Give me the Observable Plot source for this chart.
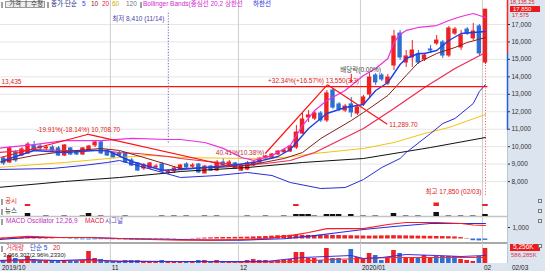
<!DOCTYPE html>
<html><head><meta charset="utf-8">
<script src="https://cdn.jsdelivr.net/npm/d3@7"></script>
<script src="https://cdn.jsdelivr.net/npm/@observablehq/plot@0.6"></script>
<style>
html,body{margin:0;padding:0;background:#fff;}
#wrap{position:relative;width:545px;height:271px;overflow:hidden;background:#fff;font-family:"Liberation Sans","Noto Sans CJK KR",sans-serif;font-size:6.5px;}
.abs{position:absolute;}
.lbl{position:absolute;white-space:nowrap;line-height:1;}
.mk{position:absolute;width:2px;height:6px;background:#a0a0a0;}
</style></head><body><div id="wrap"></div>
<script>
// ---------- data ----------
const opens = [9150,9320,9090,9670,9490,9610,10070,10010,9900,9950,
 9900,9490,9900,9670,9550,9780,10070,10240,9720,9610,
 9610,9610,9210,9040,8750,8750,8810,8980,8520,8580,
 8690,8980,8860,8980,8460,8860,8630,9090,8860,9040,
 8630,8690,8920,9090,9320,9320,9550,9670,9720,9950,
 10750,11670,11610,11900,11500,13220,12420,12070,12420,11900,
 12420,12990,14080,14080,13620,14650,16480,14820,15110,15280,
 14990,15570,15910,15970,15220,16480,15680,16710,16200,16890,
 14820];
const highs = [9380,9440,10010,9780,9950,10240,10300,10120,10070,10070,
 10010,10120,9950,9780,9950,10070,10350,10300,9840,9670,
 9720,9670,9320,9090,9040,9090,8980,9090,8690,8860,
 8980,9090,9040,9040,8920,8920,9210,9320,9210,9090,
 8980,9150,9210,9380,9490,9610,9780,9900,10070,11210,
 11900,12070,12070,12010,13220,13330,12530,12420,12820,12360,
 12930,14250,14190,14190,14140,16660,16660,15510,16080,15510,
 15340,15800,16370,16080,16890,16830,16660,16830,17060,17000,
 17850];
const lows = [9090,8920,9040,9090,9440,9550,9720,9780,9780,9670,
 9440,9440,9490,9490,9490,9720,9950,9550,9440,9320,
 9380,9040,8860,8580,8630,8690,8690,8520,8410,8460,
 8630,8750,8750,8460,8450,8580,8580,8810,8810,8690,
 8580,8630,8860,9040,9210,9270,9490,9610,9670,9840,
 10700,11380,11500,11380,11380,12130,12010,11960,11670,11790,
 12300,12760,13500,13730,13500,14360,14940,14540,14540,14710,
 14880,15340,15800,15050,15110,16370,15510,16370,16080,15220,
 14710];
const closes = [9320,9040,9900,9210,9840,10120,9780,9900,9950,9780,
 9490,10070,9550,9550,9900,10010,10240,9610,9490,9380,
 9490,9090,8920,8630,8920,9040,8860,8580,8580,8750,
 8920,8810,8920,8520,8860,8630,9090,8980,9090,8750,
 8920,9040,9090,9320,9440,9550,9720,9780,10010,10810,
 11560,11790,11900,11500,13050,12240,12130,12300,11960,12240,
 12820,13960,13680,13850,13960,16310,15110,15170,15510,14820,
 15220,15510,16080,15220,16770,16710,16370,16480,16600,15340,
 17850];

// moving averages / bands (index, value)
const ma5Idx = [1,6,11,16,18,22,27,30,34,38,42,46,48,51,54,57,60,62,64,66,67,69,70,72,74,76,78,80];
const ma5Val = [9207,9780,9665,9780,9780,9150,8650,8691,8806,8921,9093,9436,9837,11041,11900,12244,12416,13218,13676,14708,15052,15338,15338,15510,16083,16484,16541,16599];
const ma10Idx = [0,6,11,17,20,24,30,36,41,47,50,53,58,60,64,67,69,72,75,77,80];
const ma10Val = [9093,9494,9723,9895,9780,9379,8749,8806,8921,9322,9665,10467,11499,11957,12932,14077,14822,15338,15682,15968,16255];
const ma20Idx = [0,6,11,17,20,23,28,30,36,40,44,48,52,56,60,65,70,75,80];
const ma20Val = [9665,9837,9780,9780,9665,9608,9436,9322,9093,8921,9035,9207,9665,10353,11041,12187,13390,14479,15395];
const ma60Idx = [0,11,20,25,30,41,47,52,60,65,70,74,80];
const ma60Val = [8806,9093,9379,9494,9379,9322,9379,9608,9895,10238,10754,11098,11843];
const ma120Idx = [0,11,20,27,30,41,50,60,66,71,80];
const ma120Val = [7660,8004,8233,8462,8577,8806,9093,9322,9665,9952,10525];
const bbUpIdx = [0,1,6,11,17,22,28,30,34,37,40,42,45,48,50,52,54,57,60,62,64,65,66,67,69,72,74,76,78,80];
const bbUpVal = [9900,9950,10120,10350,10350,10470,10410,10410,10240,9900,9380,9210,9490,10070,11210,12070,12650,13220,14080,14480,15050,15970,16430,16660,16830,16940,17230,17460,17630,17400];
const bbLoIdx = [0,9,14,18,20,30,36,41,45,48,53,57,60,63,66,67,71,73,75,78,79,80];
const bbLoVal = [8691,8749,8921,9093,9207,8233,8347,8519,8347,7946,7602,7660,8118,8806,9322,9665,10754,11327,11614,12473,13161,13562];

// trend lines
const trendX1 = [0.49, 14.9, 43.9, 54.1];
const trendY1 = [9380, 10708.7, 9608, 13550];
const trendX2 = [14.9, 39.8, 54.1, 63.9];
const trendY2 = [10708.7, 8749, 13550, 11289.7];
const hLines = [13435];

// axis ticks
const yTicks = [8000,9000,10000,11000,12000,13000,14000,15000,16000,17000];
const monthIdx = [19, 40, 60, 80];
const monthLabels = ["11", "12", "2020/01", "02"];

// lower panels
const gongsiIdx = [5, 49, 72, 80];
const gongsiH = [2, 2, 3.5, 2];
const newsIdx = [5,8,11,14,15,17,21,27,29,31,34,36,41,44,47,49,50,51,52,54,55,56,58,60,62,65,67,69,72,74,76,78,80];
const newsCnt = [3,1,1,1,3,1,1,1,1,1,1,1,1,1,1,2,2,2,1,2,2,2,2,1,1,3,1,1,4,1,1,1,2];
const osc = [60,80,90,100,110,100,80,60,40,30,
 10,-20,-40,-60,-70,-80,-70,-60,-60,-70,
 -80,-80,-90,-90,-80,-70,-60,-50,-40,-30,
 -10,10,30,60,80,100,120,130,130,140,
 150,160,180,200,220,250,280,300,320,330,
 320,310,300,310,320,310,300,290,280,270,
 260,250,260,270,280,290,280,270,260,250,
 240,230,220,210,200,180,120,40,-150,-170,
 -120];
const macdIdx = [0,5,10,15,20,25,30,35,40,44,48,51,54,57,60,64,67,72,76,78,80];
const macdVal = [45,220,130,130,45,-45,-90,-90,-45,45,300,565,910,910,910,1260,1435,1435,1350,1220,1175];
const sigIdx = [0,5,10,15,20,25,30,35,40,47,52,56,60,65,71,76,80];
const sigVal = [-45,130,130,130,45,0,-45,-90,-90,20,300,565,825,1090,1350,1350,1350];
const vol = [1050,1050,2800,1750,1050,2450,1400,1050,700,700,
 1050,1050,700,700,1050,4200,1750,1400,700,700,
 700,1050,1050,1050,700,700,520,1050,700,700,
 700,700,520,1050,1050,700,1050,700,700,700,
 700,1050,1400,1050,1050,700,1050,1050,1400,3850,
 3850,1750,1750,1050,5250,1750,1750,1050,4900,2100,
 1400,3500,2800,1050,2100,4550,3500,2100,2100,1750,
 2800,1750,2450,2450,2450,2450,1400,1050,700,2450,
 5256];
const volUp = [1,0,1,0,1,1,0,0,1,0, 0,1,0,0,1,1,1,0,0,0, 0,0,0,0,1,1,1,0,1,1, 1,0,1,0,1,0,1,0,1,0,
 1,1,1,1,1,1,1,1,1,1, 1,1,1,0,1,0,0,1,0,1, 1,1,0,0,1,1,0,1,1,0, 1,1,0,0,0,0,1,1,1,0, 1];
const vma5Idx = [0,5,10,15,20,30,40,44,50,54,58,60,63,67,72,76,80];
const vma5Val = [1050,1400,1050,1400,700,700,700,700,2100,2450,2800,1750,2100,3150,2800,2450,2800];
const vma20Idx = [0,10,20,30,40,47,55,60,65,70,80];
const vma20Val = [875,1050,875,700,525,600,1400,1750,2100,2100,2100];

// ---------- build ----------
const RED = "#ee2222", BLUE = "#2d6fd2";
const FONT = '"Liberation Sans","Noto Sans CJK KR",sans-serif';
const W = 545, RM = 38;
const XDOM = [0.49, 83.61];
const fmt = d3.format(",");
const candles = opens.map((o, i) => ({i, o, h: highs[i], l: lows[i], c: closes[i], up: closes[i] >= o}));
const upC = candles.filter(d => d.up), dnC = candles.filter(d => !d.up);
const ser = (idx, vals) => idx.map((i, k) => ({i, v: vals[k]}));
const trends = trendX1.map((x, k) => ({x1: x, y1: trendY1[k], x2: trendX2[k], y2: trendY2[k]}));
const lowPt = {i: 28, v: 8410, date: "11/14"};
const highPt = {i: 80, v: 17850, date: "02/03"};
const exDiv = [{i: 58, label: "배당락(0.00%)", top: 14150, tip: 13700, text: 14400}];

const wrap = document.getElementById("wrap");
function div(left, top, w, h, css) {
  const d = document.createElement("div");
  d.className = "abs";
  Object.assign(d.style, {left: left + "px", top: top + "px", width: w + "px", height: h + "px"}, css || {});
  wrap.appendChild(d); return d;
}
function label(text, left, top, color, css) {
  const d = document.createElement("div");
  d.className = "lbl"; d.textContent = text;
  Object.assign(d.style, {left: left + "px", top: top + "px", color: color || "#222"}, css || {});
  wrap.appendChild(d); return d;
}
function mk(left, top) { const d = document.createElement("div"); d.className = "mk"; d.style.left = left + "px"; d.style.top = top + "px"; wrap.appendChild(d); }
function place(svg, top) { const d = document.createElement("div"); d.className = "abs"; d.style.left = "0px"; d.style.top = top + "px"; d.appendChild(svg); wrap.appendChild(d); }

// backgrounds
div(507, 0, 38, 271, {background: "#dbe4ef", borderLeft: "1px solid #b9c6d6"});
div(0, 263, 545, 8, {background: "#dbe4ef"});

const base = (h) => ({width: W, height: h, marginLeft: 0, marginRight: RM, marginTop: 0, marginBottom: 0,
  style: {background: "transparent", overflow: "hidden", fontFamily: FONT, fontSize: "6.5px"},
  x: {domain: XDOM, axis: null}});
const monthRule = Plot.ruleX(monthIdx, {x: d => d - 0.5, stroke: "#cdcdcd"});
const body = (data, fill) => Plot.rect(data, {x1: d => d.i - 0.36, x2: d => d.i + 0.36, y1: d => Math.min(d.o, d.c), y2: d => Math.max(d.o, d.c), fill, insetTop: -0.5, insetBottom: -0.5});
const wick = (data, stroke) => Plot.ruleX(data, {x: "i", y1: "l", y2: "h", stroke, strokeWidth: 1});
const line = (idx, vals, stroke, w) => Plot.line(ser(idx, vals), {x: "i", y: "v", stroke, strokeWidth: w});
const txt = (data, o) => Plot.text(data, Object.assign({fontSize: 6.5, fontFamily: FONT}, o));

// main price panel
const main = Plot.plot({...base(197),
  y: {domain: [7087, 18375], axis: null},
  marks: [
    Plot.ruleY(yTicks, {stroke: "#e6e6e6"}),
    monthRule,
    wick(upC, RED), wick(dnC, BLUE), body(upC, RED), body(dnC, BLUE),
    line(ma120Idx, ma120Val, "#111", 1),
    line(ma60Idx, ma60Val, "#f2c40f", 1),
    line(bbLoIdx, bbLoVal, "#2a2ad8", 1),
    line(ma20Idx, ma20Val, "#ec2a55", 1.2),
    line(ma10Idx, ma10Val, "#8b1c1c", 1),
    line(bbUpIdx, bbUpVal, "#ee2ee0", 1.2),
    line(ma5Idx, ma5Val, "#1f3fe6", 1.4),
    Plot.link(trends, {x1: "x1", y1: "y1", x2: "x2", y2: "y2", stroke: "#ff1010", strokeWidth: 1.2}),
    Plot.ruleY(hLines, {x1: XDOM[0], x2: 80.4, stroke: "#ff1010", strokeWidth: 1.2}),
    txt(hLines, {x: XDOM[0], y: d => d, text: d => fmt(d), textAnchor: "start", dx: 1, dy: -5, fill: "#e02020"}),
    Plot.ruleX([lowPt], {x: "i", y1: 17650, y2: 10200, stroke: "#6a5acd", strokeDasharray: "1.2,1.6"}),
    Plot.ruleX([highPt], {x: "i", y1: 14650, y2: 7200, stroke: "#f07070", strokeDasharray: "1.2,1.6"}),
    txt([lowPt], {x: "i", frameAnchor: "top", dy: 16, dx: -4, textAnchor: "end", text: d => `최저 ${fmt(d.v)} (${d.date})`, fill: "#4a3fa8"}),
    txt([highPt], {x: "i", frameAnchor: "bottom", dy: -4, dx: -4, textAnchor: "end", text: d => `최고 ${fmt(d.v)} (${d.date})`, fill: "#e02020"}),
    txt([trends[0]], {x: "x2", y: "y2", text: () => "-19.91%(-18.14%) 10,708.70", textAnchor: "middle", dx: -10, dy: -4, fill: "#e02020"}),
    txt([trends[2]], {x: "x1", y: "y1", text: () => "40.41%(10.38%)", textAnchor: "end", dx: -1, dy: -1, fill: "#c03030"}),
    txt([trends[2]], {x: "x2", y: "y2", text: () => "+32.34%(+16.57%) 13,550(3.3)", textAnchor: "middle", dx: -14, dy: -4, fill: "#e02020"}),
    txt([trends[3]], {x: "x2", y: "y2", text: () => "11,289.70", textAnchor: "start", dx: 2, dy: 1, fill: "#e02020"}),
    Plot.arrow(exDiv, {x1: "i", x2: "i", y1: "top", y2: "tip", stroke: "#ff1010", strokeWidth: 1, headLength: 3}),
    txt(exDiv, {x: "i", y: "text", text: "label", textAnchor: "start", dx: -11, fill: "#444"}),
    Plot.ruleX([XDOM[1]], {y1: 18375, y2: 15340, stroke: "#ff2020", strokeWidth: 1.5}),
    Plot.ruleX([XDOM[1]], {y1: 15340, y2: 10930, stroke: "#1f5fe0", strokeWidth: 1.5}),
    Plot.axisY(yTicks, {anchor: "right", tickSize: 2, tickPadding: 2, tickFormat: fmt, label: null, fontSize: 6.5, color: "#333"})
  ]});
place(main, 0);

// 공시 panel
const gongsi = Plot.plot({...base(12), y: {domain: [0, 12], axis: null},
  marks: [monthRule, Plot.rect(gongsiIdx.map((i, k) => ({i, h: gongsiH[k]})), {x1: d => d.i - 0.45, x2: d => d.i + 0.45, y1: 3, y2: d => 3 + d.h, fill: RED})]});
place(gongsi, 197);

// 뉴스 panel
const news = newsIdx.map((i, k) => ({i, n: newsCnt[k]}));
const newsP = Plot.plot({...base(9), y: {domain: [0, 9], axis: null},
  marks: [monthRule, Plot.ruleY([2], {stroke: "#c4c4c4", strokeWidth: 1.5}),
    Plot.rect(news.filter(d => d.n > 1), {x1: d => d.i - 0.45, x2: d => d.i + 0.45, y1: 2, y2: d => 2 + d.n, fill: "#111"}),
    Plot.rect(news.filter(d => d.n === 1), {x1: d => d.i - 0.45, x2: d => d.i + 0.45, y1: 2, y2: 3, fill: "#888"})]});
place(newsP, 209);

// MACD panel
const oscD = osc.map((v, i) => ({i, v}));
const macdP = Plot.plot({...base(25), y: {domain: [-392, 1784], axis: null},
  marks: [monthRule,
    Plot.rect(oscD.filter(d => d.v >= 0), {x1: d => d.i - 0.38, x2: d => d.i + 0.38, y1: 0, y2: "v", fill: RED}),
    Plot.rect(oscD.filter(d => d.v < 0), {x1: d => d.i - 0.38, x2: d => d.i + 0.38, y1: 0, y2: "v", fill: BLUE}),
    line(sigIdx, sigVal, "#1f2ff0", 1.2),
    line(macdIdx, macdVal, "#ff1a1a", 1.2),
    Plot.axisY([1000], {anchor: "right", tickSize: 2, tickPadding: 3, tickFormat: fmt, label: null, fontSize: 6.5, color: "#333"})]});
place(macdP, 218);
div(0, 242, 507, 1.5, {background: "#a9a9a9"});

// volume panel
const volD = vol.map((v, i) => ({i, v, up: volUp[i] === 1}));
const volP = Plot.plot({...base(20), y: {domain: [0, 7000], axis: null},
  marks: [monthRule,
    Plot.rect(volD.filter(d => d.up), {x1: d => d.i - 0.38, x2: d => d.i + 0.38, y1: 0, y2: "v", fill: RED}),
    Plot.rect(volD.filter(d => !d.up), {x1: d => d.i - 0.38, x2: d => d.i + 0.38, y1: 0, y2: "v", fill: BLUE}),
    line(vma20Idx, vma20Val, "#ff2a2a", 1),
    line(vma5Idx, vma5Val, "#3a2ae0", 1)]});
place(volP, 243);

// ---------- text overlays ----------
const xs = main.scale("x"), ys = main.scale("y");
// top legend
mk(1, 2);
div(5, 0.5, 40, 7.5, {border: "1px solid #9a9a9a", background: "#ececec", boxSizing: "border-box"});
label("가격 ┃ 수정", 9, 1.3, "#333");
mk(47, 2);
label("종가·단순", 51, 1.3, "#1a237e");
label("5", 82, 1.3, "#1f3fe6");
label("10", 91, 1.3, "#8b1c1c");
label("20", 102, 1.3, "#e8264f");
label("60", 112, 1.3, "#d9a800");
label("120", 126, 1.3, "#777");
mk(140, 2);
label("Bollinger Bands(중심선 20,2 상한선", 143, 1.3, "#d21fd2");
label("하한선", 253, 1.3, "#2a2ad8");

// right price tags
label("18,135.25", 510, -0.3, "#e02020", {fontSize: "5.5px"});
div(510, ys.apply(17850) - 3, 30, 6.2, {background: "#e81c1c"});
label(fmt(closes[closes.length - 1]), 513, ys.apply(17850) - 2.8, "#fff", {fontSize: "6px"});
label("17,575", 512, 12.8, "#e02020", {fontSize: "5.5px"});

// lower labels
mk(1, 198.5); label("공시", 5, 198, "#e02020");
mk(1, 208.5); label("뉴스", 5, 208, "#111");
mk(1, 218.5); label("MACD Oscillator 12,26,9", 6, 218, "#c02cc0");
label("MACD", 85, 218, "#e02040"); label("시그널", 105, 218, "#5a3fc0");
mk(1, 245.5); label("거래량", 6, 245, "#e03050"); label("단순 5", 30, 245, "#2040d0"); label("20", 53, 245, "#e02020");
label("3,066,307(2.96%,2330)", 3, 252, "#222", {fontSize: "6px"});
div(510, 244, 30, 6.6, {background: "#e81c1c"});
label(fmt(vol[vol.length - 1]) + "K", 513, 244.3, "#fff");
label("586,285K", 511, 251.5, "#e03050", {fontSize: "6px"});
[199, 209, 219, 244].forEach(t => div(538, t, 4, 4, {border: "1px solid #7a7a7a", background: "#eef2f6", boxSizing: "border-box"}));

// date row
label("2019/10", 2, 264.5, "#222");
monthIdx.forEach((m, k) => label(monthLabels[k], xs.apply(m - 0.5) + 2, 264.5, "#222"));
label(highPt.date, 512, 264.5, "#222");
</script></body></html>
